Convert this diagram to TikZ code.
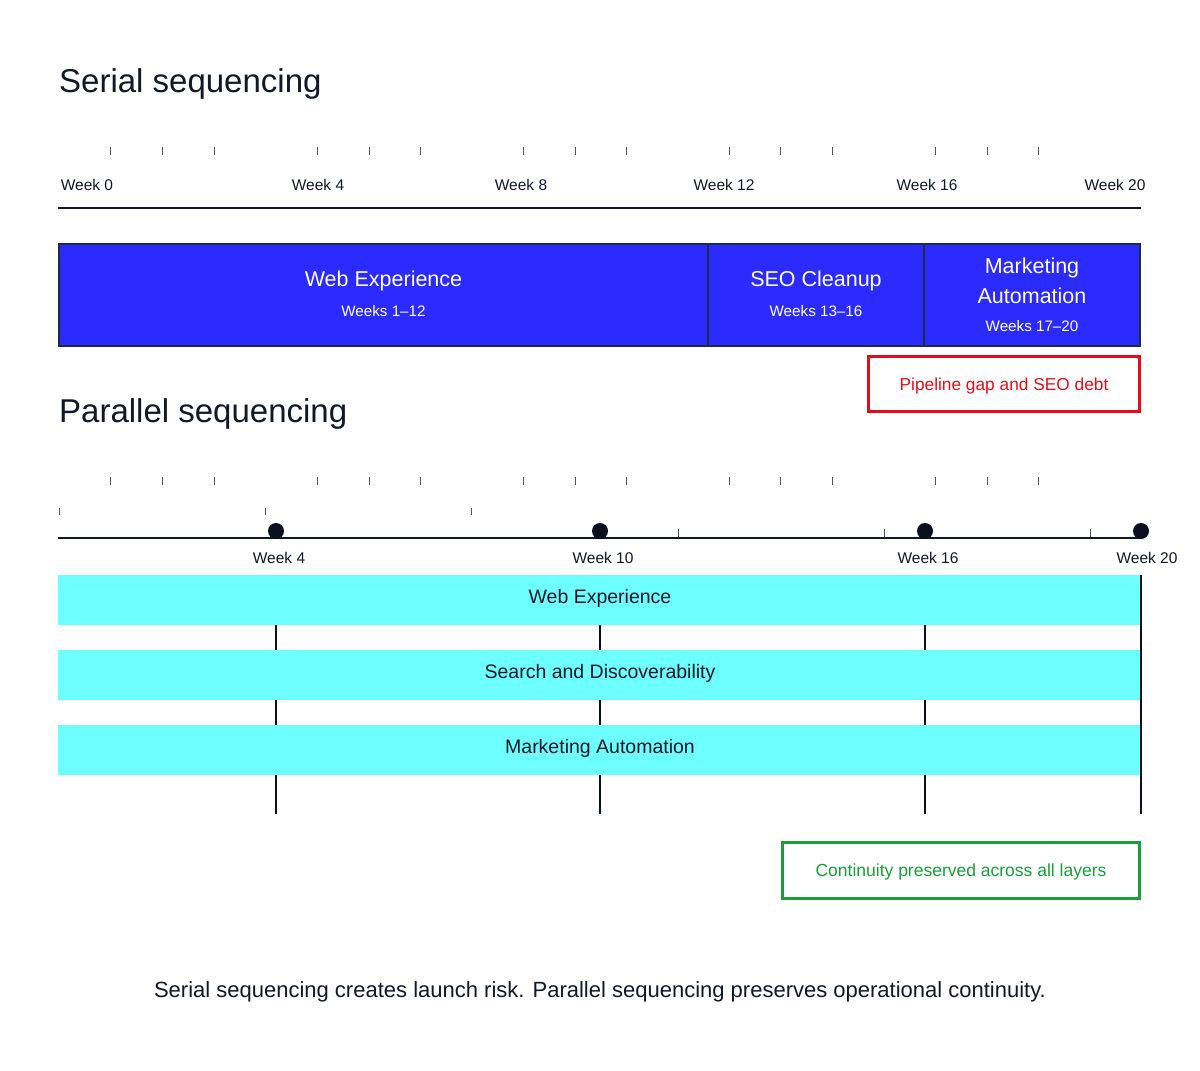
\documentclass[tikz,border=0pt]{standalone}
\usepackage{fontspec}
\setmainfont{Liberation Sans}
\definecolor{ink}{HTML}{111827}
\definecolor{navy}{HTML}{1E2A4A}
\definecolor{dotc}{HTML}{0B1020}
\definecolor{serialblue}{HTML}{2B2BFF}
\definecolor{cyanbar}{HTML}{6EFFFF}
\definecolor{riskred}{HTML}{E0101A}
\definecolor{okgreen}{HTML}{1A9E3A}
\definecolor{tickgrey}{HTML}{555555}
\tikzset{
  title/.style={anchor=west, text=ink, inner sep=0pt, font=\fontsize{33}{38}\selectfont},
  weeklbl/.style={text=ink, inner sep=0pt, font=\fontsize{15.5}{18}\selectfont},
  tickmark/.style={draw=tickgrey, line width=1pt},
  axisline/.style={draw=ink, line width=2pt},
  serialbar/.style={draw=navy, line width=2pt, fill=serialblue, inner sep=0pt},
  bartitle/.style={text=white, font=\fontsize{21.5}{30}\selectfont, align=center, inner sep=0pt},
  barsub/.style={text=white, font=\fontsize{15.2}{18}\selectfont, inner sep=0pt},
  cyanrow/.style={fill=cyanbar, draw=none, inner sep=0pt},
  rowlbl/.style={text=ink, font=\fontsize{19.5}{22}\selectfont, inner sep=0pt},
  milestone/.style={circle, fill=dotc, minimum size=16pt, inner sep=0pt},
  gate/.style={draw=dotc, line width=2.5pt},
  riskbox/.style={draw=riskred, line width=3pt, inner sep=0pt},
  risktext/.style={text=riskred, font=\fontsize{17.3}{20}\selectfont, inner sep=0pt},
  okbox/.style={draw=okgreen, line width=3pt, inner sep=0pt},
  oktext/.style={text=okgreen, font=\fontsize{17.5}{20}\selectfont, inner sep=0pt},
  footer/.style={text=ink, font=\fontsize{22}{26}\selectfont, inner sep=0pt}
}
\begin{document}
\begin{tikzpicture}[x=1pt,y=-1pt]
\useasboundingbox[fill=white] (0,0) rectangle (1200,1071);

% ---------- Serial ----------
\node[title] (t1) at (59,84) {Serial sequencing};
\foreach \x in {110,162,214,317,369,420,523,575,626,729,780,832,935,987,1038}
  \draw[tickmark] (\x,147) -- (\x,155);
\node[weeklbl] (s0) at (87,185) {Week 0};
\node[weeklbl] (s4) at (318,185) {Week 4};
\node[weeklbl] (s8) at (521,185) {Week 8};
\node[weeklbl] (s12) at (724,185) {Week 12};
\node[weeklbl] (s16) at (927,185) {Week 16};
\node[weeklbl] (s20) at (1115,185) {Week 20};
\coordinate (sa) at (58,208);
\coordinate (sb) at (1141,208);
\draw[axisline] (sa) -- (sb);

\node[serialbar, minimum width=649pt, minimum height=102pt] (web) at (383.5,295) {};
\node[serialbar, minimum width=216pt, minimum height=102pt] (seo) at (816,295) {};
\node[serialbar, minimum width=216pt, minimum height=102pt] (mkt) at (1032,295) {};
\node[bartitle] (webt) at (383.5,281) {Web Experience};
\node[barsub] (webs) at (383.5,311) {Weeks 1–12};
\node[bartitle] (seot) at (816,281) {SEO Cleanup};
\node[barsub] (seos) at (816,311) {Weeks 13–16};
\node[bartitle] (mktt) at (1032,281) {Marketing\\[-0.5pt]Automation};
\node[barsub] (mkts) at (1032,326) {Weeks 17–20};

\node[riskbox, minimum width=271pt, minimum height=55pt] (risk) at (1004,384) {};
\node[risktext] (riskt) at (1004,386) {Pipeline gap and SEO debt};

% ---------- Parallel ----------
\node[title] (t2) at (59,414) {Parallel sequencing};
\foreach \x in {110,162,214,317,369,420,523,575,626,729,780,832,935,987,1038}
  \draw[tickmark] (\x,477) -- (\x,485);
\foreach \x in {59,265,471}
  \draw[tickmark] (\x,508) -- (\x,515);
\foreach \x in {678,884,1090}
  \draw[tickmark] (\x,529) -- (\x,538);
\coordinate (pa) at (58,538);
\coordinate (pb) at (1141,538);
\draw[axisline] (pa) -- (pb);
\node[milestone] (m4) at (276,531) {};
\node[milestone] (m10) at (600,531) {};
\node[milestone] (m16) at (925,531) {};
\node[milestone] (m20) at (1141,531) {};
\node[weeklbl] (p4) at (279,558) {Week 4};
\node[weeklbl] (p10) at (603,558) {Week 10};
\node[weeklbl] (p16) at (928,558) {Week 16};
\node[weeklbl] (p20) at (1147,558) {Week 20};

\node[cyanrow, minimum width=1083pt, minimum height=50pt] (r1) at (599.5,600) {};
\node[cyanrow, minimum width=1083pt, minimum height=50pt] (r2) at (599.5,675) {};
\node[cyanrow, minimum width=1083pt, minimum height=50pt] (r3) at (599.5,750) {};
\node[rowlbl] (r1t) at (600,598.5) {Web Experience};
\node[rowlbl] (r2t) at (600,673.5) {Search and Discoverability};
\node[rowlbl] (r3t) at (600,748.5) {Marketing Automation};

\foreach \x in {276,600,925}{
  \draw[gate] (\x,625) -- (\x,650);
  \draw[gate] (\x,700) -- (\x,725);
  \draw[gate] (\x,775) -- (\x,814);
}
\coordinate (gtop) at (1141,575);
\coordinate (gbot) at (1141,814);
\draw[gate] (gtop) -- (gbot);

\node[okbox, minimum width=357pt, minimum height=56pt] (ok) at (961,870) {};
\node[oktext] (okt) at (961,871.5) {Continuity preserved across all layers};

\node[footer] (foot) at (600,991.5) {Serial sequencing creates launch risk. Parallel sequencing preserves operational continuity.};
\end{tikzpicture}
\end{document}
